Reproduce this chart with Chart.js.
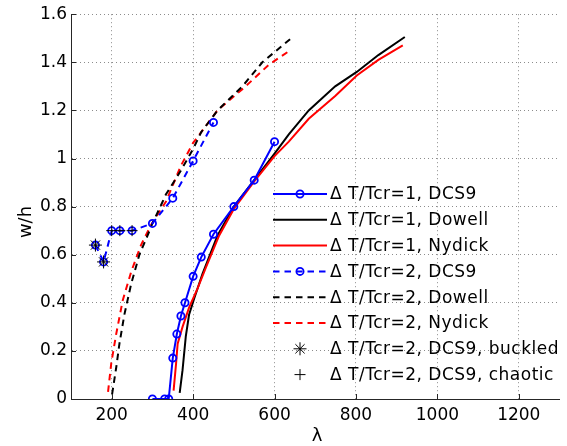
<!DOCTYPE html>
<html>
<head>
<meta charset="utf-8">
<script src="https://cdn.jsdelivr.net/npm/chart.js@4"></script>
<style>
  html, body { margin: 0; padding: 0; background: #ffffff; }
  #wrap { width: 567px; height: 446px; }
</style>
</head>
<body>
<div id="wrap"><canvas id="chart" width="567" height="446"></canvas></div>
<script>
// Axis ticks
const xTicks = [200, 400, 600, 800, 1000, 1200];
const yTicks = [0, 0.2, 0.4, 0.6, 0.8, 1, 1.2, 1.4, 1.6];

// dT/Tcr = 1
const lam1DCS9 = [300, 330, 340, 350, 360, 370, 380, 400, 420, 450, 500, 550, 600];
const wh1DCS9 = [0, 0, 0, 0.17, 0.27, 0.345, 0.40, 0.51, 0.59, 0.685, 0.80, 0.91, 1.07];

const lam1Dowell = [367, 374, 382, 390, 403, 423, 460, 500, 550, 600, 635, 684, 749, 802, 855, 920];
const wh1Dowell = [0.025, 0.12, 0.26, 0.35, 0.42, 0.52, 0.68, 0.80, 0.91, 1.02, 1.10, 1.20, 1.30, 1.36, 1.43, 1.505];

const lam1Nydick = [352, 358, 362, 374, 390, 411, 431, 464, 500, 550, 600, 635, 684, 749, 802, 855, 915];
const wh1Nydick = [0.035, 0.145, 0.23, 0.30, 0.38, 0.46, 0.545, 0.68, 0.79, 0.905, 1.01, 1.07, 1.165, 1.26, 1.345, 1.41, 1.47];

// dT/Tcr = 2
const lam2DCS9 = [160, 180, 200, 220, 250, 300, 350, 400, 450];
const wh2DCS9 = [0.64, 0.57, 0.70, 0.70, 0.70, 0.73, 0.835, 0.99, 1.15];

const lam2Dowell = [201, 211, 219, 231, 248, 268, 293, 300, 325, 333, 370, 400, 420, 460, 521, 570, 643];
const wh2Dowell = [0.02, 0.13, 0.23, 0.35, 0.48, 0.60, 0.70, 0.73, 0.82, 0.85, 0.95, 1.04, 1.11, 1.20, 1.30, 1.40, 1.503];

const lam2Nydick = [191, 199, 211, 227, 248, 272, 297, 333, 370, 400, 460, 529, 586, 637];
const wh2Nydick = [0.03, 0.15, 0.27, 0.41, 0.53, 0.64, 0.725, 0.82, 0.97, 1.065, 1.20, 1.30, 1.39, 1.448];

const lamBuckled = [160, 180];
const whBuckled = [0.64, 0.57];

const lamChaotic = [200, 220, 250];
const whChaotic = [0.70, 0.70, 0.70];

const FONT = "'DejaVu Sans', sans-serif";

function pts(xs, ys) {
  return xs.map((x, i) => ({ x: x, y: ys[i] }));
}

const DASH = [6.5, 5];

const datasets = [
  {
    label: "Δ T/Tcr=1, DCS9",
    data: pts(lam1DCS9, wh1DCS9),
    borderColor: "#0000ff",
    borderWidth: 2,
    pointStyle: "circle",
    pointRadius: 3.6,
    pointBorderWidth: 1.8,
    pointBackgroundColor: "rgba(0,0,0,0)",
    pointBorderColor: "#0000ff",
    showLine: true,
    order: 3,
  },
  {
    label: "Δ T/Tcr=1, Dowell",
    data: pts(lam1Dowell, wh1Dowell),
    borderColor: "#000000",
    borderWidth: 2,
    pointRadius: 0,
    showLine: true,
    order: 5,
  },
  {
    label: "Δ T/Tcr=1, Nydick",
    data: pts(lam1Nydick, wh1Nydick),
    borderColor: "#ff0000",
    borderWidth: 2,
    pointRadius: 0,
    showLine: true,
    order: 4,
  },
  {
    label: "Δ T/Tcr=2, DCS9",
    data: pts(lam2DCS9, wh2DCS9),
    borderColor: "#0000ff",
    borderWidth: 2,
    borderDash: DASH,
    pointStyle: "circle",
    pointRadius: 3.6,
    pointBorderWidth: 1.8,
    pointBackgroundColor: "rgba(0,0,0,0)",
    pointBorderColor: "#0000ff",
    showLine: true,
    order: 2,
  },
  {
    label: "Δ T/Tcr=2, Dowell",
    data: pts(lam2Dowell, wh2Dowell),
    borderColor: "#000000",
    borderWidth: 2,
    borderDash: DASH,
    pointRadius: 0,
    showLine: true,
    order: 6,
  },
  {
    label: "Δ T/Tcr=2, Nydick",
    data: pts(lam2Nydick, wh2Nydick),
    borderColor: "#ff0000",
    borderWidth: 2,
    borderDash: DASH,
    pointRadius: 0,
    showLine: true,
    order: 7,
  },
  {
    label: "Δ T/Tcr=2, DCS9, buckled",
    data: pts(lamBuckled, whBuckled),
    borderColor: "#000000",
    pointStyle: "star",
    pointRadius: 6.5,
    pointBorderWidth: 1,
    pointBorderColor: "#000000",
    showLine: false,
    order: 0,
  },
  {
    label: "Δ T/Tcr=2, DCS9, chaotic",
    data: pts(lamChaotic, whChaotic),
    borderColor: "#000000",
    pointStyle: "cross",
    pointRadius: 5.5,
    pointBorderWidth: 1,
    pointBorderColor: "#000000",
    showLine: false,
    order: 1,
  },
];

// Inward tick marks, axis titles and the in-plot legend
const matlabDecor = {
  id: "matlabDecor",
  afterDraw(chart) {
    const ctx = chart.ctx;
    const xs = chart.scales.x;
    const ys = chart.scales.y;
    const area = chart.chartArea;

    ctx.save();
    ctx.strokeStyle = "#262626";
    ctx.lineWidth = 1;
    ctx.beginPath();
    xTicks.forEach((v) => {
      const px = Math.round(xs.getPixelForValue(v)) + 0.5;
      ctx.moveTo(px, area.bottom);
      ctx.lineTo(px, area.bottom - 5);
    });
    yTicks.forEach((v) => {
      const py = Math.round(ys.getPixelForValue(v)) + 0.5;
      ctx.moveTo(area.left, py);
      ctx.lineTo(area.left + 5, py);
    });
    ctx.stroke();

    // axis titles
    ctx.fillStyle = "#000000";
    ctx.font = "18px " + FONT;
    ctx.textAlign = "center";
    ctx.textBaseline = "alphabetic";
    ctx.fillText("λ", 317, 441);
    ctx.save();
    ctx.translate(31, 222);
    ctx.rotate(-Math.PI / 2);
    ctx.fillText("w/h", 0, 0);
    ctx.restore();

    // legend
    const x0 = 273, x1 = 327, tx = 330, top = 194, step = 25.8;
    ctx.font = "17px " + FONT;
    ctx.letterSpacing = "0.5px";
    ctx.textAlign = "left";
    ctx.textBaseline = "middle";
    chart.data.datasets.forEach((ds, i) => {
      const y = top + i * step;
      const xm = (x0 + x1) / 2;
      if (ds.showLine) {
        ctx.save();
        ctx.strokeStyle = ds.borderColor;
        ctx.lineWidth = ds.borderWidth;
        ctx.setLineDash(ds.borderDash || []);
        ctx.beginPath();
        ctx.moveTo(x0, y);
        ctx.lineTo(x1, y);
        ctx.stroke();
        ctx.restore();
      }
      if (ds.pointRadius > 0) {
        ctx.save();
        ctx.strokeStyle = ds.pointBorderColor;
        ctx.fillStyle = "rgba(0,0,0,0)";
        ctx.lineWidth = ds.pointBorderWidth;
        Chart.helpers.drawPoint(ctx, {
          pointStyle: ds.pointStyle,
          radius: ds.pointRadius,
          rotation: 0,
          borderWidth: ds.pointBorderWidth,
        }, xm, y);
        ctx.restore();
      }
      ctx.fillStyle = "#000000";
      ctx.fillText(ds.label, tx, y + 1);
    });
    ctx.restore();
  },
};

const ctx = document.getElementById("chart").getContext("2d");
window.chart = new Chart(ctx, {
  type: "scatter",
  data: { datasets: datasets },
  plugins: [matlabDecor],
  options: {
    responsive: false,
    animation: false,
    devicePixelRatio: 1,
    layout: { padding: { top: 11, right: 5, left: 0, bottom: 0 } },
    elements: { line: { tension: 0, fill: false } },
    scales: {
      x: {
        type: "linear",
        min: 100,
        max: 1300,
        afterBuildTicks: (scale) => {
          scale.ticks = xTicks.map((v) => ({ value: v }));
        },
        afterFit: (scale) => {
          scale.height = 47;
        },
        grid: { color: "#8c8c8c", lineWidth: 1, drawTicks: false },
        border: { display: true, color: "#262626", width: 1, dash: [1, 3] },
        ticks: {
          color: "#000000",
          padding: 6,
          maxRotation: 0,
          font: { size: 17, family: FONT },
          callback: (v) => String(v),
        },
      },
      y: {
        type: "linear",
        min: 0,
        max: 1.6,
        afterBuildTicks: (scale) => {
          scale.ticks = yTicks.map((v) => ({ value: v }));
        },
        afterFit: (scale) => {
          scale.width = 71;
        },
        grid: { color: "#8c8c8c", lineWidth: 1, drawTicks: false },
        border: { display: true, color: "#262626", width: 1, dash: [1, 3] },
        ticks: {
          color: "#000000",
          padding: 4,
          font: { size: 17, family: FONT },
          callback: (v) => String(Math.round(v * 10) / 10),
        },
      },
    },
    plugins: {
      legend: { display: false },
      tooltip: { enabled: false },
    },
  },
});
</script>
</body>
</html>
